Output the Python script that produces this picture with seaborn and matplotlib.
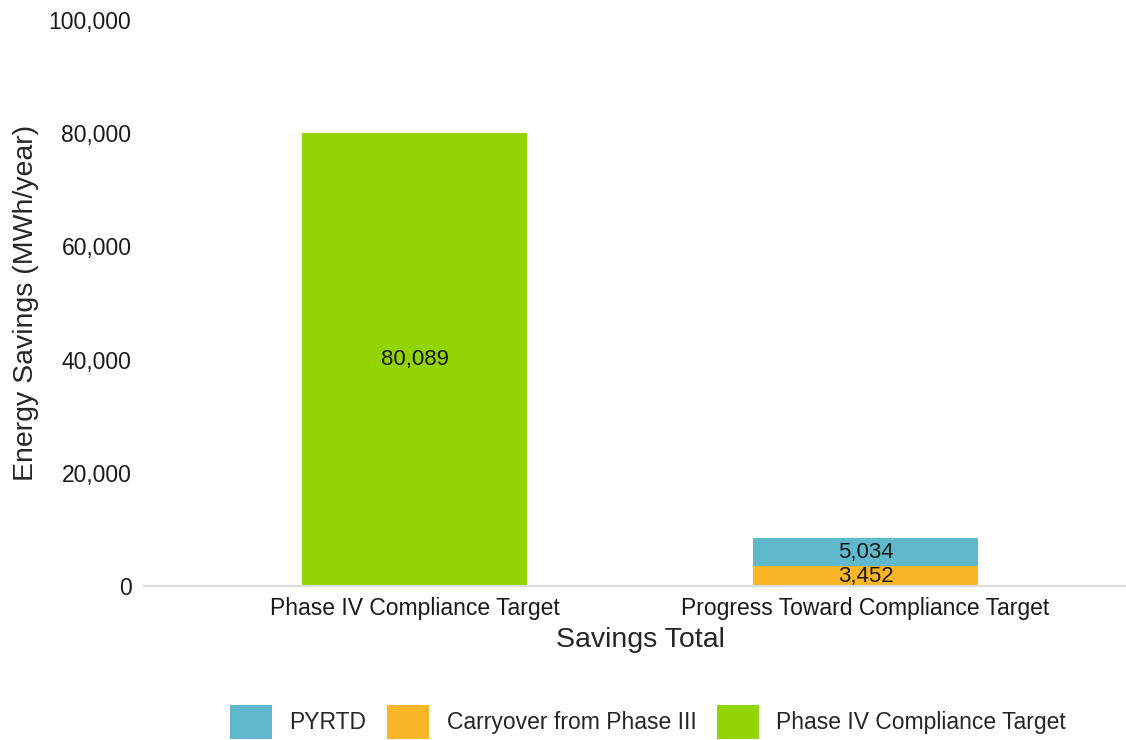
import pandas as pd
import matplotlib.pyplot as plt
import seaborn as sns
from matplotlib.patches import Patch
from matplotlib.ticker import FuncFormatter

sns.set_style("white")
plt.rcParams['font.family'] = ['Liberation Sans', 'DejaVu Sans']

categories = ["Phase IV Compliance Target", "Progress Toward Compliance Target"]
target = [80089, 0]
carryover = [0, 3452]
pyrtd = [0, 5034]

series_names = ["PYRTD", "Carryover from Phase III", "Phase IV Compliance Target"]
colors = {"PYRTD": "#60B8CC", "Carryover from Phase III": "#FAB627",
          "Phase IV Compliance Target": "#93D500"}

df = pd.DataFrame({"category": categories, "target": target,
                   "carryover": carryover, "pyrtd": pyrtd})

fig = plt.figure(figsize=(11.26, 7.4), dpi=100)
ax = fig.add_axes([144 / 1126, 154 / 740, 992 / 1126, 566 / 740])

# stacked layers, bottom to top
bar_kw = dict(order=categories, width=0.5, saturation=1, linewidth=0, ax=ax)
sns.barplot(data=df, x="category", y="target",
            color=colors["Phase IV Compliance Target"], **bar_kw)
sns.barplot(data=df, x="category", y="carryover",
            color=colors["Carryover from Phase III"], **bar_kw)
sns.barplot(data=df, x="category", y="pyrtd", color=colors["PYRTD"],
            bottom=df["carryover"].values, **bar_kw)

# segment labels
for i, cat in enumerate(categories):
    base = 0
    for vals in (target, carryover, pyrtd):
        v = vals[i]
        if v > 0:
            ax.text(i, base + v / 2, f"{v:,}", ha="center", va="center",
                    fontsize=16, color="#1a1a1a")
            base += v

ax.set_xlim(-0.6, 1.6)
ax.set_ylim(0, 100000)
ax.set_yticks([0, 20000, 40000, 60000, 80000, 100000])
ax.yaxis.set_major_formatter(FuncFormatter(lambda v, p: f"{int(v):,}"))
ax.tick_params(axis="both", length=0, labelsize=16.5, labelcolor="#1a1a1a")
ax.tick_params(axis="y", pad=9)
ax.tick_params(axis="x", pad=8)

for s in ["top", "right", "left"]:
    ax.spines[s].set_visible(False)
ax.spines["bottom"].set_color("#DCDCDC")
ax.spines["bottom"].set_linewidth(1.5)

ax.set_xlabel("Savings Total", fontsize=20.5, labelpad=5)
ax.set_ylabel("Energy Savings (MWh/year)", fontsize=20.5, labelpad=7)

handles = [Patch(facecolor=colors[n], edgecolor="none") for n in series_names]
fig.legend(handles, series_names, loc="center", ncol=3,
           bbox_to_anchor=(648 / 1126, 1 - 722 / 740), frameon=False,
           fontsize=16.5, handlelength=1.85, handleheight=1.85,
           handletextpad=0.75, columnspacing=0.9)

fig.savefig("out.png", dpi=100)
